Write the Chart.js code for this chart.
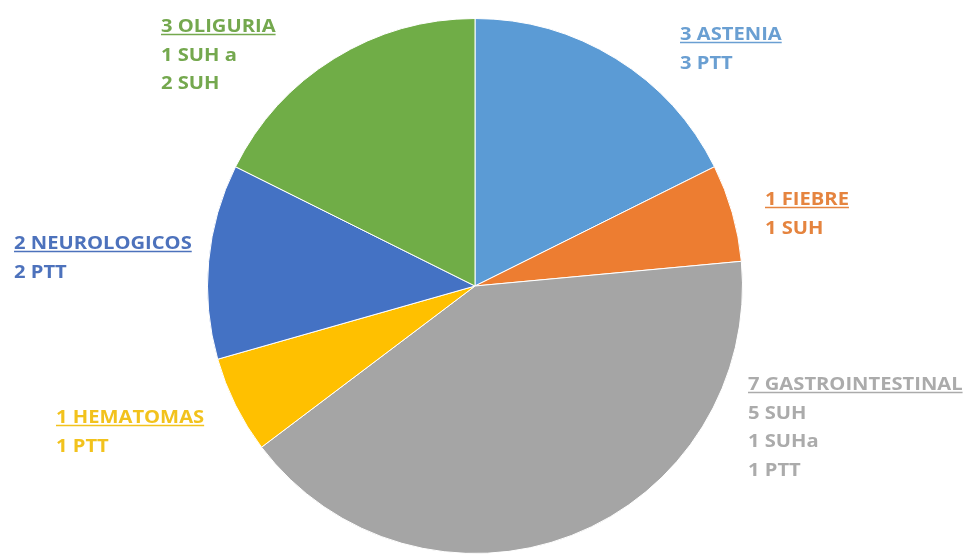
<!DOCTYPE html>
<html>
<head>
<meta charset="utf-8">
<script src="https://cdn.jsdelivr.net/npm/chart.js@4.4.1/dist/chart.umd.min.js"></script>
<style>
  html, body { margin: 0; padding: 0; background: #fff; }
  #wrap { width: 967px; height: 554px; }
</style>
</head>
<body>
<div id="wrap"><canvas id="pie-chart"></canvas></div>
<script>
var categories = ["ASTENIA", "FIEBRE", "GASTROINTESTINAL", "HEMATOMAS", "NEUROLOGICOS", "OLIGURIA"];
var values = [3, 1, 7, 1, 2, 3];
var details = [
    ["3 PTT"],
    ["1 SUH"],
    ["5 SUH", "1 SUHa", "1 PTT"],
    ["1 PTT"],
    ["2 PTT"],
    ["1 SUH a", "2 SUH"]
];
var colors = ["#5B9BD5", "#ED7D31", "#A5A5A5", "#FFC000", "#4472C4", "#70AD47"];
var textColors = ["#6A9FD2", "#E5843F", "#ABABAB", "#F2C21C", "#4D72BC", "#74A84E"];

// where each label block starts (left x, baseline of first line)
var labelPos = [[680, 40], [765, 205], [748, 390], [56, 423], [14, 249], [161, 32]];

var calloutPlugin = {
    id: 'callouts',
    afterDraw: function(chart) {
        var ctx = chart.ctx;
        var sx = 1.12;   // reference text is drawn a bit wide
        ctx.save();
        ctx.font = "bold 18px 'Open Sans'";
        ctx.textBaseline = "alphabetic";
        for (var i = 0; i < categories.length; i++) {
            var lines = [values[i] + " " + categories[i]].concat(details[i]);
            var x = labelPos[i][0], y = labelPos[i][1];
            ctx.fillStyle = textColors[i];
            ctx.strokeStyle = textColors[i];
            for (var j = 0; j < lines.length; j++) {
                var ly = y + j * 28.7;
                ctx.save();
                ctx.translate(x, ly);
                ctx.scale(sx, 1);
                ctx.fillText(lines[j], 0, 0);
                ctx.restore();
                if (j === 0) {
                    var w = ctx.measureText(lines[j]).width * sx;
                    ctx.lineWidth = 1.6;
                    ctx.beginPath();
                    ctx.moveTo(x, ly + 2.5);
                    ctx.lineTo(x + w, ly + 2.5);
                    ctx.stroke();
                }
            }
        }
        ctx.restore();
    }
};

var data = {
    labels: categories,
    datasets: [{
        data: values,
        backgroundColor: colors,
        borderColor: "#FFFFFF",
        borderWidth: 1
    }]
};

var options = {
    responsive: true,
    maintainAspectRatio: false,
    animation: false,
    layout: { padding: { top: 18, bottom: 0, left: 0, right: 17 } },
    plugins: {
        legend: { display: false },
        tooltip: { enabled: false }
    }
};

new Chart(document.getElementById("pie-chart"), {
    type: 'pie',
    data: data,
    options: options,
    plugins: [calloutPlugin]
});
</script>
</body>
</html>
